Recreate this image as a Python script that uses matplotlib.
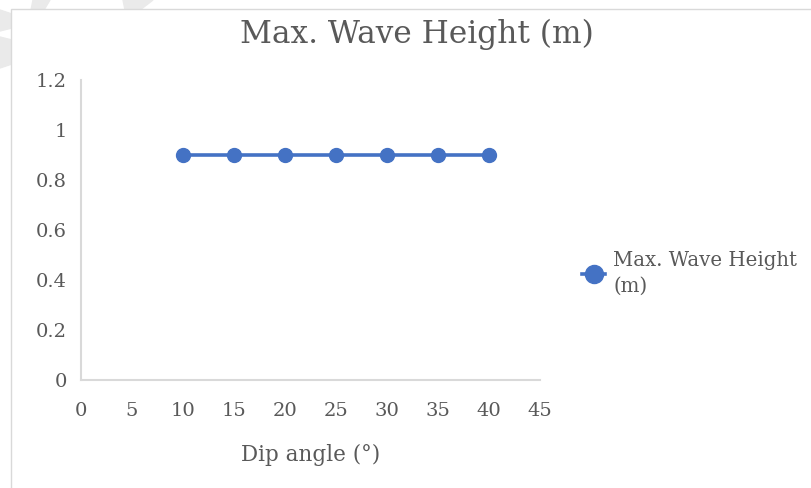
import matplotlib
matplotlib.use("Agg")
import matplotlib.pyplot as plt
from matplotlib.patches import Rectangle, Polygon
from matplotlib.lines import Line2D

dip_angle = [10, 15, 20, 25, 30, 35, 40]
max_wave_height = [0.9, 0.9, 0.9, 0.9, 0.9, 0.9, 0.9]
x_ticks = [0, 5, 10, 15, 20, 25, 30, 35, 40, 45]
y_ticks = [0, 0.2, 0.4, 0.6, 0.8, 1, 1.2]
y_tick_labels = ["0", "0.2", "0.4", "0.6", "0.8", "1", "1.2"]

blue = "#4472C4"
text_gray = "#595959"
axis_gray = "#D9D9D9"

plt.rcParams["font.family"] = ["DejaVu Serif"]

W, H = 811, 488
fig = plt.figure(figsize=(W / 100, H / 100), dpi=100)


def px(x, y):
    return (x / W, 1 - y / H)


# faint background shapes peeking out behind the chart area
for pts in [
    [(33, 0), (50, 0), (44, 10), (31, 10)],
    [(123, 0), (153, 0), (140, 10), (125, 10)],
    [(0, 10), (12, 14), (12, 28), (0, 31)],
    [(0, 37), (12, 40), (12, 64), (0, 68)],
]:
    fig.patches.append(Polygon([px(*p) for p in pts], closed=True,
                               transform=fig.transFigure, color="#EAEAEA",
                               zorder=-3))

# chart area with its thin border
fig.patches.append(Rectangle(px(11, H + 10), 1.0, (H + 10 - 9) / H,
                             transform=fig.transFigure, facecolor="white",
                             edgecolor="#D9D9D9", linewidth=1.0, zorder=-2))

ax = fig.add_axes([81 / W, 1 - 380 / H, (540 - 81) / W, 300 / H])
ax.set_facecolor("none")
ax.plot(dip_angle, max_wave_height, color=blue, linewidth=2.6,
        marker="o", markersize=10, markerfacecolor=blue, markeredgecolor=blue)

ax.set_xlim(0, 45)
ax.set_ylim(0, 1.2)
ax.set_xticks(x_ticks)
ax.set_yticks(y_ticks)
ax.set_yticklabels(y_tick_labels)
ax.tick_params(axis="both", length=0, labelsize=14, labelcolor=text_gray)
ax.tick_params(axis="x", pad=16)
ax.tick_params(axis="y", pad=10)

for side in ["top", "right"]:
    ax.spines[side].set_visible(False)
for side in ["left", "bottom"]:
    ax.spines[side].set_color(axis_gray)
    ax.spines[side].set_linewidth(1.5)

ax.set_xlabel("Dip angle (°)", fontsize=15.5, color=text_gray, labelpad=17)
fig.text(417 / W, 1 - 34 / H, "Max. Wave Height (m)", fontsize=22.5,
         color=text_gray, ha="center", va="center")

handle = Line2D([], [], color=blue, linewidth=2.6, marker="o", markersize=13,
                markerfacecolor=blue, markeredgecolor=blue)
leg = fig.legend([handle], ["Max. Wave Height\n(m)"], loc="center left",
                 bbox_to_anchor=(568 / W, 1 - 273 / H), frameon=False,
                 fontsize=14.2, labelcolor=text_gray, handlelength=1.2,
                 handletextpad=0.4, borderpad=0.2)
leg.get_texts()[0].set_linespacing(1.45)

fig.savefig("out.png", dpi=100)
